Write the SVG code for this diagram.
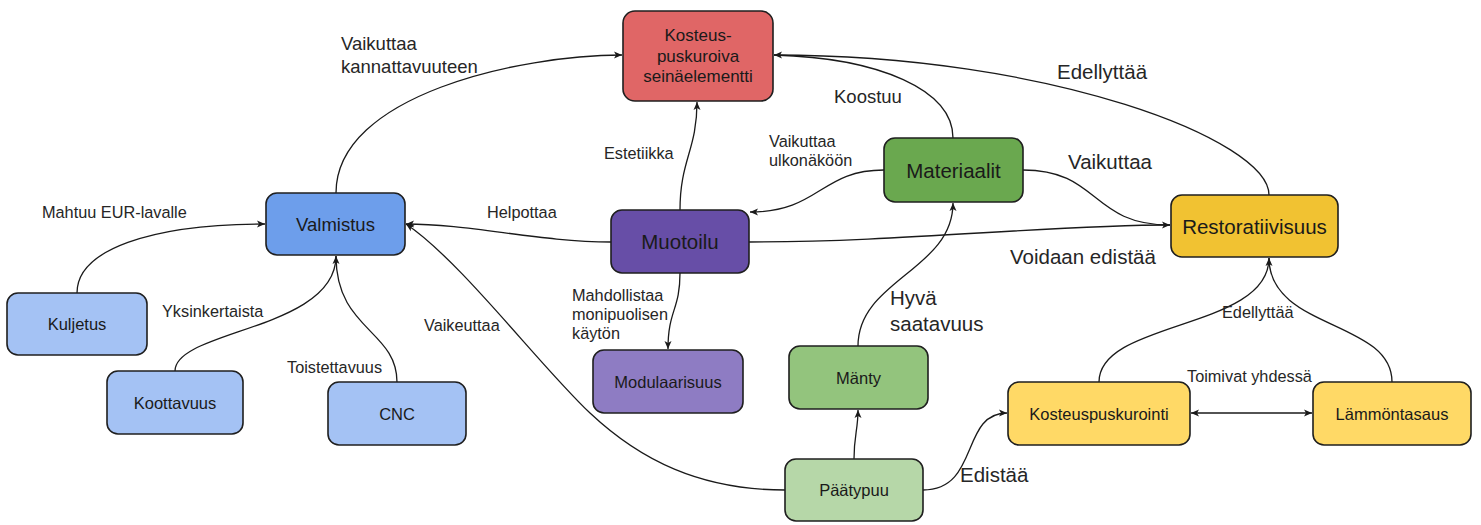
<svg xmlns="http://www.w3.org/2000/svg" width="1481" height="525" viewBox="0 0 1481 525">
<style>
.n{stroke:#1f1f1f;stroke-width:1.6}
.t{font-family:"Liberation Sans",Arial,sans-serif;fill:#1a1a1a;text-anchor:middle}
.l{font-family:"Liberation Sans",Arial,sans-serif;fill:#262626}
.c{fill:none;stroke:#1a1a1a;stroke-width:1.3}
</style>
<defs>
<marker id="a" markerWidth="10" markerHeight="10" refX="8" refY="4" orient="auto" markerUnits="userSpaceOnUse">
<path d="M0,0.5 L8,4 L0,7.5 L2,4 z" fill="#1a1a1a"/>
</marker>
<marker id="as" markerWidth="10" markerHeight="10" refX="0" refY="4" orient="auto" markerUnits="userSpaceOnUse">
<path d="M8,0.5 L0,4 L8,7.5 L6,4 z" fill="#1a1a1a"/>
</marker>
</defs>
<rect width="1481" height="525" fill="#ffffff"/>
<g id="connectors">
<path class="c" d="M336,193 C336,95 520,55 622,55" marker-end="url(#a)"/>
<path class="c" d="M953,138 C953,90 880,58 774,55"/>
<path class="c" d="M1269,195 C1269,140 1050,55 774,55" marker-end="url(#a)"/>
<path class="c" d="M680,210 C680,160 697,150 697,102" marker-end="url(#a)"/>
<path class="c" d="M611,242 C540,242 470,224 406,224" marker-end="url(#a)"/>
<path class="c" d="M749,242 C900,242 1050,225 1170,225" marker-end="url(#a)"/>
<path class="c" d="M1023,170 C1100,170 1090,225 1170,225"/>
<path class="c" d="M884,170 C820,170 820,212 750,212" marker-end="url(#a)"/>
<path class="c" d="M77,293 C77,250 150,224 265,224" marker-end="url(#a)"/>
<path class="c" d="M175,371 C175,330 336,330 336,256" marker-end="url(#a)"/>
<path class="c" d="M397,382 C397,330 336,330 336,256"/>
<path class="c" d="M785,490 C700,490 640,460 590,413 S460,260 406,224" marker-end="url(#a)"/>
<path class="c" d="M680,273 C680,310 668,310 668,349" marker-end="url(#a)"/>
<path class="c" d="M858,346 C858,280 953,270 953,203" marker-end="url(#a)"/>
<path class="c" d="M854,459 C854,435 858,430 858,410" marker-end="url(#a)"/>
<path class="c" d="M923,490 C980,490 960,413 1007,413" marker-end="url(#a)"/>
<path class="c" d="M1099,382 C1099,320 1269,330 1269,258" marker-end="url(#a)"/>
<path class="c" d="M1392,382 C1392,320 1269,330 1269,258"/>
<path class="c" d="M1191,413 L1312,413" marker-start="url(#as)" marker-end="url(#a)"/>
<g class="l" font-size="18.5">
<text x="341" y="50">Vaikuttaa</text>
<text x="341" y="73">kannattavuuteen</text>
<text x="834" y="103">Koostuu</text>
</g>
<g class="l" font-size="20.5">
<text x="1057" y="79">Edellyttää</text>
<text x="1068" y="169">Vaikuttaa</text>
<text x="890" y="305">Hyvä</text>
<text x="890" y="331">saatavuus</text>
<text x="1010" y="264">Voidaan edistää</text>
<text x="960" y="482">Edistää</text>
</g>
<g class="l" font-size="16.3">
<text x="769" y="147">Vaikuttaa</text>
<text x="769" y="166">ulkonäköön</text>
<text x="604" y="159">Estetiikka</text>
<text x="487" y="218">Helpottaa</text>
<text x="42" y="218">Mahtuu EUR-lavalle</text>
<text x="162" y="317">Yksinkertaista</text>
<text x="287" y="373">Toistettavuus</text>
<text x="424" y="331">Vaikeuttaa</text>
<text x="572" y="301">Mahdollistaa</text>
<text x="572" y="320">monipuolisen</text>
<text x="572" y="339">käytön</text>
<text x="1222" y="318">Edellyttää</text>
<text x="1187" y="382">Toimivat yhdessä</text>
</g>
</g>
<g id="kosteus-seinaelementti">
<rect class="n" x="623" y="11" width="150" height="90" rx="12" fill="#e06666"/>
<text class="t" font-size="17" x="698" y="41">Kosteus-</text>
<text class="t" font-size="17" x="698" y="61.5">puskuroiva</text>
<text class="t" font-size="17" x="698" y="82">seinäelementti</text>
</g>
<g id="valmistus">
<rect class="n" x="266" y="193" width="139" height="62" rx="11" fill="#6d9eeb"/>
<text class="t" font-size="18.5" x="335.5" y="230.5">Valmistus</text>
</g>
<g id="materiaalit">
<rect class="n" x="884" y="138" width="139" height="64" rx="11" fill="#6aa84f"/>
<text class="t" font-size="20.5" x="953.5" y="177.5">Materiaalit</text>
</g>
<g id="restoratiivisuus">
<rect class="n" x="1171" y="195" width="167" height="62" rx="11" fill="#f1c232"/>
<text class="t" font-size="20.5" x="1254.5" y="233.5">Restoratiivisuus</text>
</g>
<g id="muotoilu">
<rect class="n" x="611" y="210" width="138" height="63" rx="11" fill="#674ea7"/>
<text class="t" font-size="20.5" x="680" y="249">Muotoilu</text>
</g>
<g id="kuljetus">
<rect class="n" x="7" y="293" width="140" height="62" rx="11" fill="#a4c2f4"/>
<text class="t" font-size="16.5" x="77" y="330">Kuljetus</text>
</g>
<g id="koottavuus">
<rect class="n" x="107" y="371" width="136" height="63" rx="11" fill="#a4c2f4"/>
<text class="t" font-size="16.5" x="175" y="408.5">Koottavuus</text>
</g>
<g id="cnc">
<rect class="n" x="328" y="382" width="138" height="63" rx="11" fill="#a4c2f4"/>
<text class="t" font-size="16.5" x="397" y="419.5">CNC</text>
</g>
<g id="modulaarisuus">
<rect class="n" x="593" y="350" width="150" height="63" rx="11" fill="#8e7cc3"/>
<text class="t" font-size="16.5" x="668" y="387.5">Modulaarisuus</text>
</g>
<g id="manty">
<rect class="n" x="789" y="346" width="139" height="63" rx="11" fill="#93c47d"/>
<text class="t" font-size="16.5" x="858.5" y="383.5">Mänty</text>
</g>
<g id="paatypuu">
<rect class="n" x="785" y="459" width="138" height="62" rx="11" fill="#b6d7a8"/>
<text class="t" font-size="16.5" x="854" y="496">Päätypuu</text>
</g>
<g id="kosteuspuskurointi">
<rect class="n" x="1008" y="382" width="182" height="63" rx="11" fill="#ffd966"/>
<text class="t" font-size="16.5" x="1099" y="419.5">Kosteuspuskurointi</text>
</g>
<g id="lammontasaus">
<rect class="n" x="1313" y="382" width="158" height="63" rx="11" fill="#ffd966"/>
<text class="t" font-size="16.5" x="1392" y="419.5">Lämmöntasaus</text>
</g>
</svg>
